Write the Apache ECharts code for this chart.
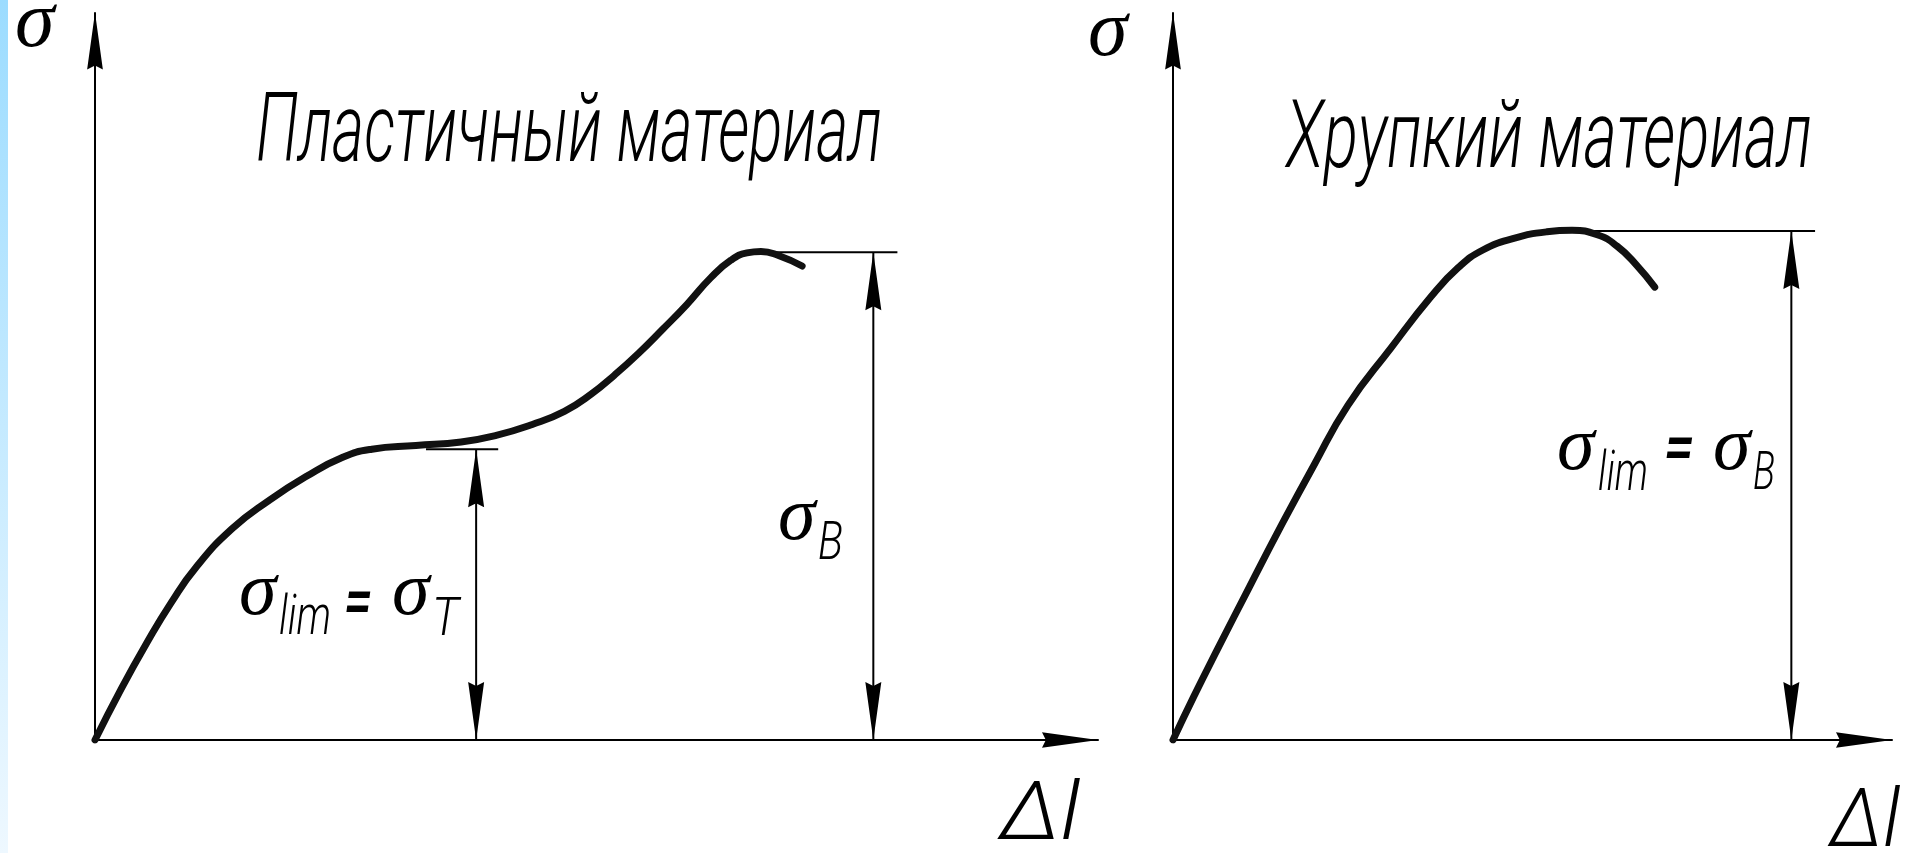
<!DOCTYPE html>
<html>
<head>
<meta charset="utf-8">
<script src="https://cdn.jsdelivr.net/npm/echarts@6/dist/echarts.min.js"></script>
<style>
  html, body { margin: 0; padding: 0; background: #fff; }
  #main { width: 1925px; height: 853px; }
</style>
</head>
<body>
<div id="main"></div>
<script>
// σ(Δl), пластичный материал (оси 0..100)
const plasticCurve = [
  [0, 0], [2.6, 7.0], [5.1, 13.2], [7.6, 18.9], [10.1, 23.8], [13.7, 29.1],
  [17.4, 33.0], [21.0, 36.2], [24.7, 38.9], [27.6, 40.0], [32.0, 40.5],
  [36.5, 41.0], [40.0, 41.9], [43.6, 43.4], [46.8, 45.2], [49.5, 47.6],
  [51.8, 50.2], [54.2, 53.2], [56.6, 56.5], [59.0, 59.9], [61.4, 63.6],
  [63.4, 66.0], [65.0, 67.0], [66.4, 67.2], [68.2, 66.6], [70.5, 65.2]
];
// σ(Δl), хрупкий материал
const brittleCurve = [
  [0, 0], [2.9, 6.0], [6.3, 12.7], [10.6, 21.0], [14.9, 29.2], [19.6, 37.8],
  [24.3, 46.0], [30.3, 53.9], [35.9, 61.0], [39.7, 65.0], [43.1, 67.4],
  [47.4, 69.0], [52.0, 69.9], [55.5, 70.1], [59.0, 69.5], [61.8, 67.9],
  [64.5, 65.3], [67.0, 62.3]
];
// размерные линии: [x, верх, выносная от, выносная до]
const plasticDims = [[38.0, 40.0, 33, 40.2], [77.6, 67.1, 65, 80]];
const brittleDims = [[86.0, 70.0, 55, 89.3]];
const titles = ['Пластичный материал', 'Хрупкий материал'];

const ARROW = 'path://M8,0 L16,58 L8,54 L0,58 Z';

const chart = echarts.init(document.getElementById('main'));

function xAxisFor(i) {
  return {
    type: 'value', gridIndex: i, min: 0, max: 100,
    axisLine: {
      show: true, onZero: false,
      lineStyle: { color: '#000', width: 2 },
      symbol: ['none', ARROW], symbolSize: [16, 56], symbolOffset: [0, -28]
    },
    axisTick: { show: false }, axisLabel: { show: false }, splitLine: { show: false }
  };
}
function yAxisFor(i) {
  return {
    type: 'value', gridIndex: i, min: 0, max: 100,
    axisLine: {
      show: true, onZero: false,
      lineStyle: { color: '#000', width: 2 },
      symbol: ['none', ARROW], symbolSize: [17, 57], symbolOffset: [0, -28]
    },
    axisTick: { show: false }, axisLabel: { show: false }, splitLine: { show: false }
  };
}

function dimRender(params, api) {
  const x = api.value(0), top = api.value(1);
  const p0 = api.coord([x, 0]);
  const p1 = api.coord([x, top]);
  const e0 = api.coord([api.value(2), top]);
  const e1 = api.coord([api.value(3), top]);
  const w = 8, h = 58;
  return {
    type: 'group',
    children: [
      { type: 'line', shape: { x1: p0[0], y1: p0[1], x2: p1[0], y2: p1[1] }, style: { stroke: '#000', lineWidth: 2 } },
      { type: 'line', shape: { x1: e0[0], y1: e0[1], x2: e1[0], y2: e1[1] }, style: { stroke: '#000', lineWidth: 2 } },
      { type: 'polygon', shape: { points: [[p1[0], p1[1]], [p1[0] + w, p1[1] + h], [p1[0], p1[1] + h - 4], [p1[0] - w, p1[1] + h]] }, style: { fill: '#000' } },
      { type: 'polygon', shape: { points: [[p0[0], p0[1]], [p0[0] + w, p0[1] - h], [p0[0], p0[1] - h + 4], [p0[0] - w, p0[1] - h]] }, style: { fill: '#000' } }
    ]
  };
}

// шрифты
const SERIF = s => 'italic ' + s + 'px "Liberation Serif", "DejaVu Serif", serif';
const GOST = s => 'italic 300 ' + s + 'px Roboto, "Open Sans", sans-serif';
const GOST_EQ = s => 'italic 500 ' + s + 'px Roboto, "Open Sans", sans-serif';
const measureCtx = document.createElement('canvas').getContext('2d');
function fitScale(text, font, width) {
  measureCtx.font = font;
  return width / measureCtx.measureText(text).width;
}
function piece(text, x, baseline, fontFn, size, width) {
  const font = fontFn(size);
  return {
    type: 'text', x: x, y: baseline - 0.34 * size, silent: true,
    scaleX: width ? fitScale(text, font, width) : 1,
    style: {
      text: text, font: font, fill: '#000',
      align: 'left', textAlign: 'left', verticalAlign: 'middle', textVerticalAlign: 'middle'
    }
  };
}

const texts = [
  piece('σ', 15, 52, SERIF, 80),
  piece('σ', 1088, 61, SERIF, 80),
  piece(titles[0], 256, 170, GOST, 96, 626),
  piece(titles[1], 1286, 175, GOST, 94, 526),
  piece('Δl', 1000, 846, GOST, 82, 80),
  piece('Δl', 1830, 853, GOST, 82, 70),
  // σlim = σT
  piece('σ', 239, 620, SERIF, 76),
  piece('lim', 279, 639, GOST, 56, 52),
  piece('=', 344, 630, GOST_EQ, 66, 28),
  piece('σ', 392, 620, SERIF, 76),
  piece('T', 432, 640, GOST, 54, 27),
  // σB
  piece('σ', 778, 545, SERIF, 76),
  piece('B', 818, 564, GOST, 54, 25),
  // σlim = σB
  piece('σ', 1557, 475, SERIF, 76),
  piece('lim', 1598, 495, GOST, 56, 50),
  piece('=', 1664, 476, GOST_EQ, 66, 30),
  piece('σ', 1713, 475, SERIF, 76),
  piece('B', 1753, 494, GOST, 54, 22)
];

const option = {
  backgroundColor: '#ffffff',
  animation: false,
  grid: [
    { left: 95, top: 13, width: 1003, height: 727 },
    { left: 1173, top: 13, width: 719, height: 727 }
  ],
  xAxis: [xAxisFor(0), xAxisFor(1)],
  yAxis: [yAxisFor(0), yAxisFor(1)],
  graphic: {
    elements: [
      {
        type: 'rect', left: 0, top: 0, silent: true,
        shape: { width: 8, height: 853 },
        style: {
          fill: new echarts.graphic.LinearGradient(0, 0, 0, 1, [
            { offset: 0, color: '#9cdcff' },
            { offset: 1, color: '#eef8ff' }
          ])
        }
      }
    ].concat(texts)
  },
  series: [
    {
      type: 'line', xAxisIndex: 0, yAxisIndex: 0, data: plasticCurve,
      smooth: 0.5, showSymbol: false, symbol: 'none',
      lineStyle: { color: '#111', width: 7, cap: 'round', join: 'round' }
    },
    {
      type: 'line', xAxisIndex: 1, yAxisIndex: 1, data: brittleCurve,
      smooth: 0.5, showSymbol: false, symbol: 'none',
      lineStyle: { color: '#111', width: 7, cap: 'round', join: 'round' }
    },
    { type: 'custom', xAxisIndex: 0, yAxisIndex: 0, data: plasticDims, renderItem: dimRender, clip: false },
    { type: 'custom', xAxisIndex: 1, yAxisIndex: 1, data: brittleDims, renderItem: dimRender, clip: false }
  ]
};

chart.setOption(option);
</script>
</body>
</html>
